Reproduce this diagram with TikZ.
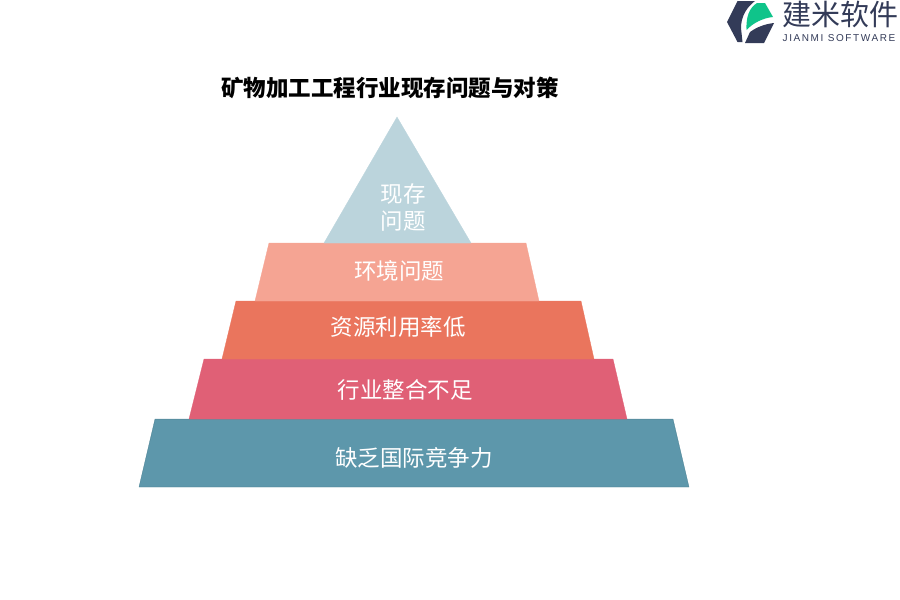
\documentclass[tikz,border=0pt]{standalone}
\usepackage{fontspec}
\setmainfont{Noto Sans CJK SC}
\newfontfamily\latinfont[LetterSpace=16]{Liberation Sans}
\definecolor{tealband}{HTML}{5D97AB}
\definecolor{roseband}{HTML}{E06076}
\definecolor{orangeband}{HTML}{EA755D}
\definecolor{salmonband}{HTML}{F5A493}
\definecolor{paleband}{HTML}{BBD4DC}
\definecolor{logodark}{HTML}{333B58}
\definecolor{logogreen}{HTML}{0FC48A}
\begin{document}
\begin{tikzpicture}[x=1pt,y=-1pt]
        \tikzset{band/.style={draw=#1,line width=0.3pt,fill=#1},
            bandtext/.style={text=white,font=\fontsize{22.5}{27}\selectfont,align=center,inner sep=0pt}}
        \useasboundingbox (0,0) rectangle (900,600);
        % pyramid
        \draw[band=tealband!92!black] (155,419) -- (673,419) -- (689,487) -- (139,487) -- cycle;
        \fill[tealband] (155.5,419.5) -- (672.5,419.5) -- (688.5,486.5) -- (139.5,486.5) -- cycle;
        \draw[band=roseband] (204,359) -- (613,359) -- (627,419) -- (189,419) -- cycle;
        \draw[band=orangeband] (236,301) -- (581,301) -- (594,359) -- (222,359) -- cycle;
        \draw[band=salmonband] (269,243) -- (526,243) -- (539,301) -- (255,301) -- cycle;
        \draw[band=paleband] (397,117) -- (471,243) -- (324,243) -- cycle;
        \node[bandtext] (wenti) at (403,207.5) {现存\\问题};
        \node[bandtext] (huanjing) at (399,271) {环境问题};
        \node[bandtext] (ziyuan) at (398,327) {资源利用率低};
        \node[bandtext] (zhenghe) at (405,390) {行业整合不足};
        \node[bandtext] (jingzheng) at (414,458) {缺乏国际竞争力};
        \node[font=\fontsize{22.5}{27}\selectfont\bfseries,inner sep=0pt] (title) at (390,88) {矿物加工工程行业现存问题与对策};
        % logo
        \fill[logodark] (727,22) -- (737.5,1) -- (755,1) .. controls (747,7) and (741,16) .. (741,28) -- (742.5,42) -- (737.5,42) -- cycle;
        \fill[logodark] (745,43) -- (750,32) .. controls (757,27) and (765,24) .. (774,23) -- (764,43) -- cycle;
        \fill[logogreen] (746.5,30) .. controls (746,17) and (749,8) .. (757,3) -- (765,3) -- (773,17) .. controls (763,18) and (753,23) .. (746.5,30) -- cycle;
        \node[font=\fontsize{29}{31}\selectfont,text=logodark,inner sep=0pt] (brand) at (840,14) {建米软件};
        \node[font=\latinfont\fontsize{10}{12}\selectfont,text=logodark,inner sep=0pt] (brandlatin) at (839,38) {JIANMI SOFTWARE};
    \end{tikzpicture}
\end{document}
